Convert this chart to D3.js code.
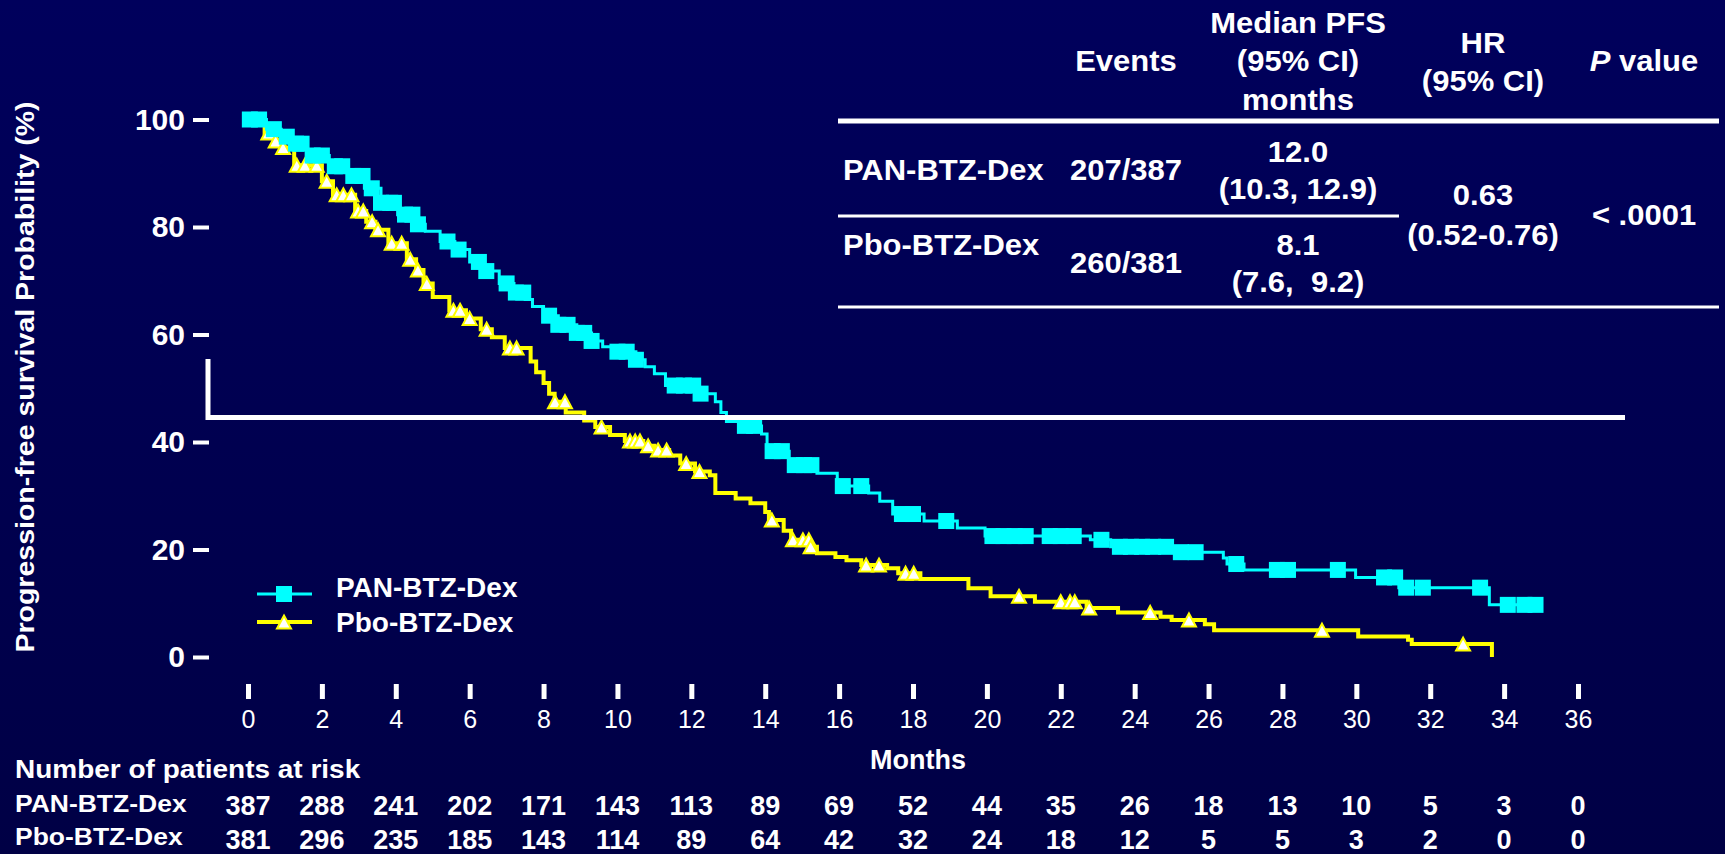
<!DOCTYPE html>
<html>
<head>
<meta charset="utf-8">
<script src="https://cdn.jsdelivr.net/npm/d3@7"></script>
<style>
  html, body { margin: 0; padding: 0; background: #000050; overflow: hidden; }
  svg { display: block; font-family: "Liberation Sans", Arial, sans-serif; }
</style>
</head>
<body>
<div id="chart"></div>
<script>
// ---- data ----
const groups = ["PAN-BTZ-Dex", "Pbo-BTZ-Dex"];
const monthTicks = [0, 2, 4, 6, 8, 10, 12, 14, 16, 18, 20, 22, 24, 26, 28, 30, 32, 34, 36];
const pfsTicks = [0, 20, 40, 60, 80, 100];

// Kaplan-Meier steps [month, PFS %]
const panSteps = [[0, 100], [0.5, 98.2], [0.9, 96.8], [1.15, 95.5], [1.6, 93.3], [2.2, 91.3], [2.7, 89.5],
  [3.15, 87.2], [3.6, 84.5], [4.05, 82.3], [4.5, 80.5], [4.8, 79.2], [5.2, 77.3], [5.6, 75.8], [6.0, 73.5],
  [6.4, 71.8], [6.8, 69.5], [7.2, 67.8], [7.5, 66.5], [7.7, 65.2], [8.0, 63.5], [8.4, 61.8], [8.9, 60.3],
  [9.3, 58.8], [9.6, 57.7], [10.0, 56.8], [10.5, 55.3], [10.75, 54.0], [11.0, 52.7], [11.3, 50.5], [12.2, 49.0],
  [12.65, 47.5], [12.8, 45.5], [12.95, 43.8], [13.3, 43.0], [13.9, 41.5], [14.05, 38.3], [14.65, 35.7],
  [15.4, 34.2], [15.95, 31.8], [16.8, 30.5], [17.1, 29.0], [17.45, 26.6], [18.3, 25.3], [19.2, 24.0],
  [19.95, 22.5], [22.8, 21.8], [23.35, 20.5], [25.0, 19.5], [26.4, 18.4], [26.5, 17.3], [26.96, 16.2],
  [29.98, 14.8], [31.15, 12.9], [33.6, 9.7]];
const panEnd = 34.95;
const panCensored = [0.05, 0.3, 0.7, 1.05, 1.3, 1.45, 1.75, 2.0, 2.35, 2.55, 2.85, 3.1, 3.35, 3.6, 3.85, 3.95,
  4.25, 4.45, 4.6, 5.4, 5.7, 6.25, 6.45, 7.0, 7.25, 7.45, 8.15, 8.4, 8.65, 8.9, 9.1, 9.3, 10.0, 10.25, 10.5,
  11.55, 11.8, 12.05, 12.25, 13.45, 13.7, 14.2, 14.45, 14.8, 15.05, 15.25, 16.1, 16.6, 17.7, 18.0, 18.9,
  20.15, 20.45, 20.75, 21.05, 21.7, 22.0, 22.35, 23.1, 23.6, 23.9, 24.2, 24.5, 24.85, 25.25, 25.65, 26.75,
  27.85, 28.15, 29.5, 30.75, 31.05, 31.35, 31.8, 33.35, 34.1, 34.55, 34.85];

const pboSteps = [[0, 100], [0.45, 97.5], [0.7, 96], [0.9, 94.8], [1.25, 91.5], [2.0, 88.5], [2.3, 86],
  [2.9, 83], [3.2, 81], [3.45, 79.5], [3.8, 77], [4.3, 74], [4.55, 72], [4.75, 69.5], [5.0, 67], [5.45, 64.5],
  [5.9, 63], [6.3, 61], [6.6, 59.5], [6.95, 57.5], [7.65, 55], [7.8, 53], [8.0, 51], [8.15, 49], [8.3, 47.5],
  [8.6, 45.5], [9.1, 44], [9.4, 42.8], [9.8, 41.3], [10.2, 40.2], [10.7, 39.3], [11.0, 38.5], [11.4, 37.5],
  [11.7, 36], [12.1, 34.5], [12.5, 33.8], [12.65, 30.5], [13.2, 29.5], [13.6, 28.6], [14.0, 27], [14.1, 25.5],
  [14.5, 23.5], [14.7, 21.8], [15.2, 20.5], [15.4, 19.3], [15.9, 18.6], [16.2, 18.0], [16.6, 17.1],
  [17.3, 16.5], [17.6, 15.6], [18.2, 14.5], [19.5, 12.8], [20.1, 11.3], [21.3, 10.3], [22.7, 9.1],
  [23.55, 8.3], [24.7, 7.5], [25.0, 6.9], [25.9, 6.1], [26.15, 5.0], [30.05, 3.8], [31.4, 3.2], [31.5, 2.4],
  [33.67, 0]];
const pboEnd = 33.67;
const pboCensored = [0.55, 0.75, 0.95, 1.32, 1.54, 1.86, 2.13, 2.4, 2.58, 2.8, 2.98, 3.12, 3.36, 3.52, 3.89,
  4.16, 4.39, 4.6, 4.84, 5.56, 5.74, 6.0, 6.46, 7.09, 7.27, 8.31, 8.58, 9.57, 10.34, 10.48, 10.61, 10.83, 11.1,
  11.33, 11.86, 12.22, 14.18, 14.75, 15.02, 15.18, 15.23, 16.73, 17.08, 17.8, 18.02, 20.87, 22.0, 22.25, 22.38,
  22.77, 24.42, 25.47, 29.07, 32.89];

// number at risk
const riskMonths = [0, 2, 4, 6, 8, 10, 12, 14, 16, 18, 20, 22, 24, 26, 28, 30, 32, 34, 36];
const panAtRisk = [387, 288, 241, 202, 171, 143, 113, 89, 69, 52, 44, 35, 26, 18, 13, 10, 5, 3, 0];
const pboAtRisk = [381, 296, 235, 185, 143, 114, 89, 64, 42, 32, 24, 18, 12, 5, 5, 3, 2, 0, 0];

// summary table
const events = ["207/387", "260/381"];
const medianPfs = ["12.0", "8.1"];
const medianCi = ["(10.3, 12.9)", "(7.6,  9.2)"];
const hazardRatio = ["0.63", "(0.52-0.76)"];
const pValue = "< .0001";

// ---- drawing ----
const width = 1725, height = 854;
const cyan = "#00ffff", yellow = "#ffff00", white = "#ffffff";

const svg = d3.select("#chart").append("svg")
  .attr("width", width)
  .attr("height", height);

const grad = svg.append("defs").append("linearGradient")
  .attr("id", "bg").attr("x1", 0).attr("y1", 0).attr("x2", 0).attr("y2", 1);
grad.append("stop").attr("offset", "0%").attr("stop-color", "#00005c");
grad.append("stop").attr("offset", "100%").attr("stop-color", "#000045");
svg.append("rect").attr("width", width).attr("height", height).attr("fill", "url(#bg)");

const x = d3.scaleLinear().domain([0, 36]).range([248, 1578]);
const y = d3.scaleLinear().domain([0, 100]).range([657, 119.5]);

function txt(g, px, py, s, o = {}) {
  return g.append("text")
    .attr("transform", `translate(${px},${py}) scale(1,${o.sy || 1})`)
    .attr("text-anchor", o.anchor || "start")
    .attr("font-size", o.size || 30)
    .attr("font-weight", o.weight || "bold")
    .attr("fill", white)
    .style("white-space", "pre")
    .text(s);
}

function survAt(steps, t) {
  let v = steps[0][1];
  steps.forEach(s => { if (s[0] <= t) v = s[1]; });
  return v;
}

// y axis
const yAxis = svg.append("g")
  .attr("transform", "translate(209,0)")
  .call(d3.axisLeft(y).tickValues(pfsTicks).tickSize(16).tickPadding(8));
yAxis.select(".domain").remove();
yAxis.selectAll(".tick line").attr("stroke", white).attr("stroke-width", 4);
yAxis.selectAll(".tick text")
  .attr("fill", white).attr("font-size", 30).attr("font-weight", "bold")
  .attr("font-family", "Liberation Sans, Arial, sans-serif")
  .attr("dy", "0.33em");

txt(svg, 0, 0, "Progression-free survival Probability (%)", { size: 28.5, anchor: "middle" })
  .attr("transform", "translate(34,377) rotate(-90) scale(1,0.9)");

// x axis
const xAxis = svg.append("g")
  .attr("transform", "translate(0,684)")
  .call(d3.axisBottom(x).tickValues(monthTicks).tickSize(15));
xAxis.select(".domain").remove();
xAxis.selectAll(".tick line").attr("stroke", white).attr("stroke-width", 5);
xAxis.selectAll(".tick text")
  .attr("fill", white).attr("font-size", 25).attr("font-weight", "normal")
  .attr("font-family", "Liberation Sans, Arial, sans-serif")
  .attr("y", 44).attr("dy", 0);

txt(svg, 918, 769, "Months", { size: 27, anchor: "middle" });

// curves
const line = d3.line()
  .x(d => x(d[0]))
  .y(d => y(d[1]))
  .curve(d3.curveStepAfter);

const pboLine = pboSteps.concat([[pboEnd, pboSteps[pboSteps.length - 1][1]]]);
const panLine = panSteps.concat([[panEnd, panSteps[panSteps.length - 1][1]]]);

const triPath = "M0,-6.5L7,6.5L-7,6.5Z";

svg.append("path")
  .attr("d", line(pboLine))
  .attr("fill", "none").attr("stroke", yellow).attr("stroke-width", 4);

svg.append("g").selectAll("path")
  .data(pboCensored)
  .join("path")
  .attr("transform", d => `translate(${x(d)},${y(survAt(pboSteps, d))})`)
  .attr("d", triPath)
  .attr("fill", white).attr("stroke", yellow).attr("stroke-width", 2);

svg.append("path")
  .attr("d", line(panLine))
  .attr("fill", "none").attr("stroke", cyan).attr("stroke-width", 3);

svg.append("g").selectAll("rect")
  .data(panCensored)
  .join("rect")
  .attr("x", d => x(d) - 8)
  .attr("y", d => y(survAt(panSteps, d)) - 8)
  .attr("width", 16).attr("height", 16)
  .attr("fill", cyan);

// white bracket line on the slide
svg.append("path")
  .attr("d", "M208,359V417.5H1625")
  .attr("fill", "none").attr("stroke", white).attr("stroke-width", 5);

// legend
const legend = svg.append("g");
[0, 1].forEach(i => {
  const ly = i === 0 ? 594 : 622;
  legend.append("line")
    .attr("x1", 257).attr("x2", 312).attr("y1", ly).attr("y2", ly)
    .attr("stroke", i === 0 ? cyan : yellow).attr("stroke-width", i === 0 ? 3 : 4);
  if (i === 0) {
    legend.append("rect").attr("x", 276).attr("y", ly - 8).attr("width", 16).attr("height", 16).attr("fill", cyan);
  } else {
    legend.append("path").attr("transform", `translate(284,${ly})`).attr("d", triPath)
      .attr("fill", white).attr("stroke", yellow).attr("stroke-width", 2);
  }
  txt(legend, 336, i === 0 ? 597 : 632, groups[i], { size: 28 });
});

// numbers at risk
const risk = svg.append("g");
txt(risk, 15, 778, "Number of patients at risk", { size: 28, sy: 0.9 });
txt(risk, 15, 812, groups[0], { size: 26.5, sy: 0.9 });
txt(risk, 15, 845, groups[1], { size: 26.5, sy: 0.9 });
riskMonths.forEach((m, i) => {
  txt(risk, x(m), 815, String(panAtRisk[i]), { size: 27, anchor: "middle" });
  txt(risk, x(m), 849, String(pboAtRisk[i]), { size: 27, anchor: "middle" });
});

// summary table
const tbl = svg.append("g");
const sy = 0.93;
const colEvents = 1126, colMedian = 1298, colHr = 1483, colP = 1644;
txt(tbl, colEvents, 71, "Events", { size: 31, anchor: "middle", sy });
txt(tbl, colMedian, 33, "Median PFS", { size: 31, anchor: "middle", sy });
txt(tbl, colMedian, 71, "(95% CI)", { size: 31, anchor: "middle", sy });
txt(tbl, colMedian, 110, "months", { size: 31, anchor: "middle", sy });
txt(tbl, colHr, 53, "HR", { size: 31, anchor: "middle", sy });
txt(tbl, colHr, 91, "(95% CI)", { size: 31, anchor: "middle", sy });
const pv = txt(tbl, colP, 71, "", { size: 31, anchor: "middle", sy });
pv.append("tspan").attr("font-style", "italic").text("P");
pv.append("tspan").text(" value");

tbl.append("line").attr("x1", 838).attr("x2", 1719).attr("y1", 121).attr("y2", 121)
  .attr("stroke", white).attr("stroke-width", 5);
tbl.append("line").attr("x1", 838).attr("x2", 1399).attr("y1", 216).attr("y2", 216)
  .attr("stroke", white).attr("stroke-width", 3);
tbl.append("line").attr("x1", 838).attr("x2", 1719).attr("y1", 307).attr("y2", 307)
  .attr("stroke", white).attr("stroke-width", 3);

txt(tbl, 843, 180, groups[0], { size: 31, sy });
txt(tbl, colEvents, 180, events[0], { size: 31, anchor: "middle", sy });
txt(tbl, colMedian, 162, medianPfs[0], { size: 31, anchor: "middle", sy });
txt(tbl, colMedian, 199, medianCi[0], { size: 31, anchor: "middle", sy });

txt(tbl, 843, 255, groups[1], { size: 31, sy });
txt(tbl, colEvents, 273, events[1], { size: 31, anchor: "middle", sy });
txt(tbl, colMedian, 255, medianPfs[1], { size: 31, anchor: "middle", sy });
txt(tbl, colMedian, 292, medianCi[1], { size: 31, anchor: "middle", sy });

txt(tbl, colHr, 205, hazardRatio[0], { size: 31, anchor: "middle", sy });
txt(tbl, colHr, 245, hazardRatio[1], { size: 31, anchor: "middle", sy });
txt(tbl, colP, 225, pValue, { size: 31, anchor: "middle", sy });
</script>
</body>
</html>
